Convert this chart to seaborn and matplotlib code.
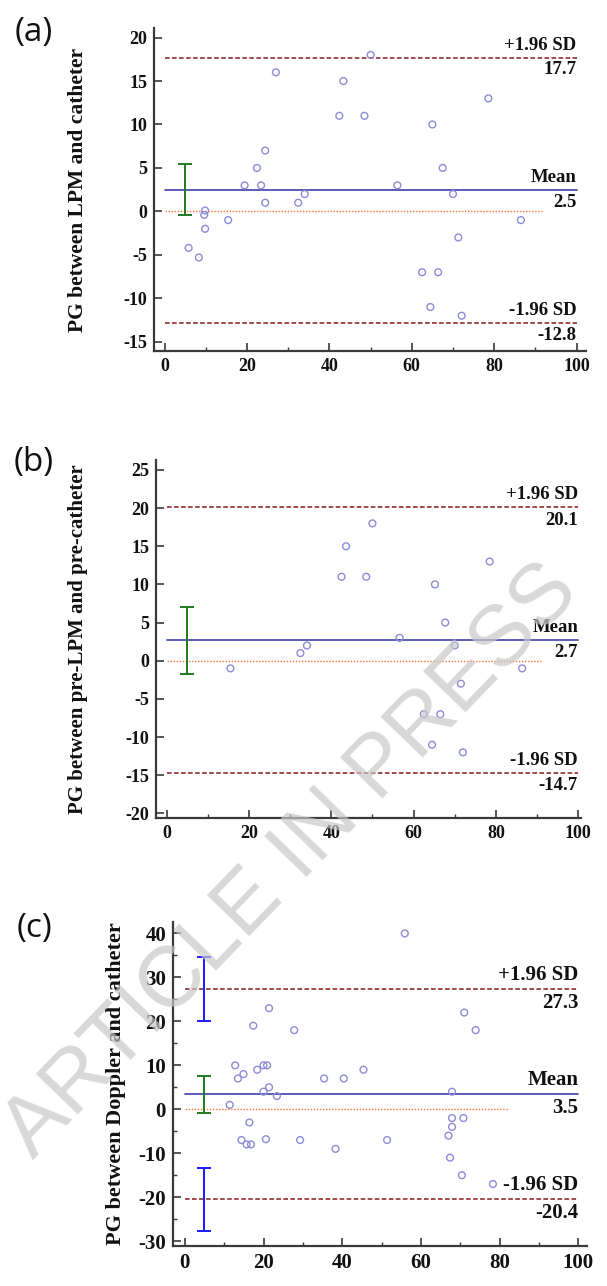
import numpy as np
import pandas as pd
import matplotlib
matplotlib.use("Agg")
import matplotlib.pyplot as plt
from matplotlib.ticker import FixedLocator, MultipleLocator
import seaborn as sns

sns.set_theme(style="white")
plt.rcParams['font.family'] = ['Liberation Serif', 'DejaVu Serif']
plt.rcParams['font.weight'] = 'bold'
plt.rcParams['axes.unicode_minus'] = False

# ---------------- data ----------------
# panel (a): LPM vs catheter
a_x = [27, 50, 43.4, 42.4, 48.5, 78.6, 65, 24.4, 22.4, 67.5, 19.4, 23.4, 56.5,
       24.4, 32.4, 34, 70, 9.8, 9.6, 9.8, 15.4, 5.8, 8.3, 71.3, 86.5, 62.5, 66.4,
       64.5, 72.1]
a_y = [16, 18, 15, 11, 11, 13, 10, 7, 5, 5, 3, 3, 3,
       1, 1, 2, 2, 0.1, -0.4, -2, -1, -4.2, -5.3, -3, -1, -7, -7,
       -11, -12]
a_stats = {"mean": 2.5, "upper": 17.7, "lower": -12.8}
a_yticks = [-15, -10, -5, 0, 5, 10, 15, 20]

# panel (b): pre-LPM vs pre-catheter
b_x = [50, 43.6, 42.5, 48.5, 65.2, 78.5, 67.7, 56.6, 70, 32.5, 34.1, 15.5,
       86.4, 71.5, 62.5, 66.5, 64.5, 72]
b_y = [18, 15, 11, 11, 10, 13, 5, 3, 2, 1, 2, -1,
       -1, -3, -7, -7, -11, -12]
b_stats = {"mean": 2.7, "upper": 20.1, "lower": -14.7}
b_yticks = [-20, -15, -10, -5, 0, 5, 10, 15, 20, 25]

# panel (c): Doppler vs catheter
c_x = [55.9, 17.4, 21.4, 27.8, 71, 73.9, 12.8, 13.5, 14.9, 11.4, 18.4, 20, 20.9,
       20, 21.4, 23.4, 16.4, 14.4, 15.7, 16.8, 20.6, 29.3, 35.4, 40.4, 38.3, 45.4,
       51.4, 67.9, 67.9, 70.8, 67.9, 67, 67.4, 70.4, 78.3]
c_y = [40, 19, 23, 18, 22, 18, 10, 7, 8, 1, 9, 10, 10,
       4, 5, 3, -3, -7, -8, -8, -6.8, -7, 7, 7, -9, 9,
       -7, 4, -2, -2, -4, -6, -11, -15, -17]
c_stats = {"mean": 3.5, "upper": 27.3, "lower": -20.4}
c_yticks = [-30, -20, -10, 0, 10, 20, 30, 40]

# confidence-interval bars (low, high)
a_ci_mean = (-0.4, 5.4)
b_ci_mean = (-1.7, 7.1)
c_ci_mean = (-0.8, 7.6)
c_ci_upper = (20.1, 34.6)
c_ci_lower = (-27.8, -13.3)

ylabels = ["PG between LPM and catheter",
           "PG between pre-LPM and pre-catheter",
           "PG between Doppler and catheter"]
panel_tags = ["(a)", "(b)", "(c)"]
x_ticks = [0, 20, 40, 60, 80, 100]

# ---------------- style ----------------
PT_COL = "#8c8cd8"
MEAN_COL = "#4f4fb2"
SD_COL = "#8b1a1a"
ZERO_COL = "#ff7033"
GREEN = "#1f7a1f"
BLUE = "#1a1aff"
SPINE = "#3a3a3a"

W, H = 607, 1286
fig = plt.figure(figsize=(W / 100, H / 100), dpi=100)

def frac(l, r, t, b):
    return [l / W, 1 - b / H, (r - l) / W, (b - t) / H]

specs = [
    dict(rect=frac(154, 586, 28, 351), xlim=(-2.6, 102.3), ylim=(-16.06, 21.1),
         yt=a_yticks, ymin=None, zero_end=91.7, fs=13, afs=13.5, lfs=15.5, lab_x=88,
         x=a_x, y=a_y, st=a_stats, cis=[(a_ci_mean, GREEN)], tag_y=32),
    dict(rect=frac(156, 581, 460, 818), xlim=(-2.6, 100.7), ylim=(-20.6, 26.3),
         yt=b_yticks, ymin=None, zero_end=91, fs=13, afs=13.5, lfs=15, lab_x=88,
         x=b_x, y=b_y, st=b_stats, cis=[(b_ci_mean, GREEN)], tag_y=462),
    dict(rect=frac(173, 587, 922, 1246), xlim=(-3, 102.2), ylim=(-31.1, 42.6),
         yt=c_yticks, ymin=5, zero_end=82.5, fs=15, afs=15, lfs=16, lab_x=126,
         x=c_x, y=c_y, st=c_stats,
         cis=[(c_ci_mean, GREEN), (c_ci_upper, BLUE), (c_ci_lower, BLUE)], tag_y=928),
]

for i, sp in enumerate(specs):
    ax = fig.add_axes(sp["rect"])
    ax.set_facecolor("none")
    df = pd.DataFrame({"x": sp["x"], "y": sp["y"]})
    st = sp["st"]
    # reference lines
    ax.plot([0, sp["zero_end"]], [0, 0], color=ZERO_COL, lw=1.0, ls=(0, (1, 1.2)), zorder=1)
    ax.plot([0, 100], [st["mean"]] * 2, color=MEAN_COL, lw=1.3, zorder=2)
    ax.plot([0, 100], [st["upper"]] * 2, color=SD_COL, lw=1.1, ls=(0, (3, 1.6)), zorder=2)
    ax.plot([0, 100], [st["lower"]] * 2, color=SD_COL, lw=1.1, ls=(0, (3, 1.6)), zorder=2)
    # CI bars
    for (lo, hi), col in sp["cis"]:
        mid = (lo + hi) / 2
        ax.errorbar([5], [mid], yerr=[[mid - lo], [hi - mid]], fmt="none",
                    ecolor=col, elinewidth=1.4, capsize=5, capthick=1.4, zorder=3)
    sns.scatterplot(data=df, x="x", y="y", ax=ax, marker="o", s=24,
                    facecolors="none", edgecolor=PT_COL, linewidth=1.0, zorder=4)
    ax.set_xlim(*sp["xlim"])
    ax.set_ylim(*sp["ylim"])
    ax.xaxis.set_major_locator(FixedLocator(x_ticks))
    ax.set_xticklabels([str(t) for t in x_ticks], fontsize=sp["fs"], fontweight="bold")
    ax.yaxis.set_major_locator(FixedLocator(sp["yt"]))
    ax.set_yticklabels([str(t) for t in sp["yt"]], fontsize=sp["fs"], fontweight="bold")
    ax.xaxis.set_minor_locator(MultipleLocator(10))
    if sp["ymin"]:
        ax.yaxis.set_minor_locator(MultipleLocator(sp["ymin"]))
    ax.tick_params(axis="both", which="major", direction="in", length=6, width=1.2,
                   color=SPINE, pad=5, labelcolor="#111111")
    ax.tick_params(axis="both", which="minor", direction="in", length=3, width=1.0,
                   color=SPINE)
    ax.tick_params(axis="x", which="both", bottom=True, top=False)
    ax.tick_params(axis="y", which="both", left=True, right=False)
    for s in ["top", "right"]:
        ax.spines[s].set_visible(False)
    for s in ["left", "bottom"]:
        ax.spines[s].set_color(SPINE)
        ax.spines[s].set_linewidth(1.6)
    ax.set_xlabel("")
    ax.set_ylabel(ylabels[i], fontsize=sp["lfs"], fontweight="bold", color="#111111")
    x0 = sp["rect"][0]
    ax.yaxis.set_label_coords((sp["lab_x"] / W - x0) / sp["rect"][2], 0.5)
    # annotations
    fs = sp["afs"]
    yr = sp["ylim"][1] - sp["ylim"][0]
    off = yr * 0.012
    for key, top_txt in [("upper", "+1.96 SD"), ("mean", "Mean"), ("lower", "-1.96 SD")]:
        v = st[key]
        ax.text(100, v + off, top_txt, ha="right", va="bottom", fontsize=fs,
                fontweight="bold", color="#111111", zorder=5)
        ax.text(100, v - off, f"{v}", ha="right", va="top", fontsize=fs,
                fontweight="bold", color="#111111", zorder=5)
    fig.text(34 / W, 1 - sp["tag_y"] / H, panel_tags[i], ha="center", va="center",
             fontsize=24, fontweight="normal", color="#111111",
             family=["Open Sans", "DejaVu Sans"])

# watermark
fig.text(0.48, 0.33, "ARTICLE IN PRESS", rotation=46, ha="center", va="center",
         fontsize=62, color="#c8c8c8", alpha=0.7, family=["Liberation Sans", "DejaVu Sans"],
         fontweight="normal", zorder=10)

fig.savefig("out.png", dpi=100)
